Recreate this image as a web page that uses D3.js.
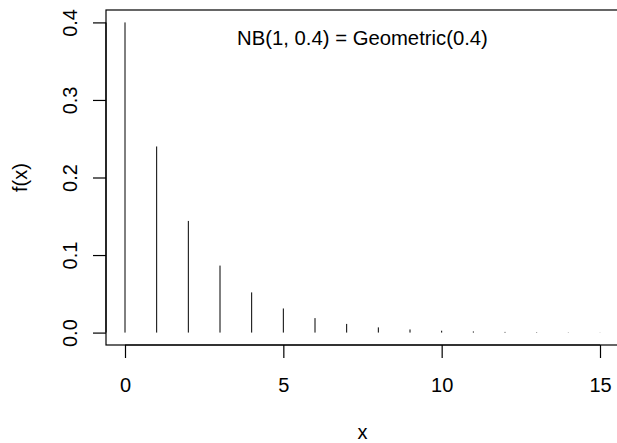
<!DOCTYPE html>
<html>
<head>
<meta charset="utf-8">
<script src="https://cdn.jsdelivr.net/npm/d3@7"></script>
<style>
  html, body { margin: 0; padding: 0; background: #fff; }
  svg { display: block; }
  text { font-family: "Liberation Sans", Arial, sans-serif; fill: #000; }
</style>
</head>
<body>
<svg id="chart" width="617" height="443"></svg>
<script>
// Geometric(0.4) probability mass, x = 0..15
const xs = [0, 1, 2, 3, 4, 5, 6, 7, 8, 9, 10, 11, 12, 13, 14, 15];
const probs = [0.4, 0.24, 0.144, 0.0864, 0.05184, 0.031104, 0.0186624, 0.01119744,
               0.006718464, 0.004031078, 0.002418647, 0.001451188, 0.000870713,
               0.000522428, 0.000313457, 0.000188074];
const xTicks = [0, 5, 10, 15];
const yTicks = [0.0, 0.1, 0.2, 0.3, 0.4];
const titleText = "NB(1, 0.4) = Geometric(0.4)";
const xLabel = "x";
const yLabel = "f(x)";

const svg = d3.select("#chart");
const plot = { left: 106, right: 619, top: 10, bottom: 345 };
const fontSize = 20;

// Axis limits padded by 4% of the data range on each side
const xPad = 0.04 * (d3.max(xs) - d3.min(xs));
const yPad = 0.04 * d3.max(probs);
const x = d3.scaleLinear().domain([d3.min(xs) - xPad, d3.max(xs) + xPad]).range([plot.left, plot.right]);
const y = d3.scaleLinear().domain([0 - yPad, d3.max(probs) + yPad]).range([plot.bottom, plot.top]);

// Vertical spikes from zero to each probability
svg.append("g")
  .selectAll("line")
  .data(xs.map((v, i) => ({ x: v, p: probs[i] })))
  .join("line")
  .attr("x1", d => x(d.x)).attr("x2", d => x(d.x))
  .attr("y1", y(0)).attr("y2", d => y(d.p))
  .attr("stroke", "#000").attr("stroke-width", 1);

// Frame around the plotting region
svg.append("rect")
  .attr("x", plot.left).attr("y", plot.top)
  .attr("width", plot.right - plot.left).attr("height", plot.bottom - plot.top)
  .attr("fill", "none").attr("stroke", "#000").attr("stroke-width", 1.2);

const tickLen = 13;

// Bottom axis
const xAxis = d3.axisBottom(x).tickValues(xTicks).tickFormat(d3.format("d"))
  .tickSize(tickLen).tickPadding(20).tickSizeOuter(0);
const gx = svg.append("g").attr("transform", `translate(0,${plot.bottom})`).call(xAxis);
gx.select(".domain").attr("d", `M${x(xTicks[0])},0H${x(xTicks[xTicks.length - 1])}`)
  .attr("stroke-width", 1.2);
gx.selectAll(".tick line").attr("stroke-width", 1.2);
gx.selectAll(".tick text").attr("font-size", fontSize)
  .attr("font-family", "Liberation Sans, Arial, sans-serif").attr("dy", "0.71em");

// Left axis with rotated labels
const yAxis = d3.axisLeft(y).tickValues(yTicks).tickFormat(d3.format(".1f"))
  .tickSize(tickLen).tickPadding(0).tickSizeOuter(0);
const gy = svg.append("g").attr("transform", `translate(${plot.left},0)`).call(yAxis);
gy.select(".domain").attr("d", `M0,${y(yTicks[0])}V${y(yTicks[yTicks.length - 1])}`)
  .attr("stroke-width", 1.2);
gy.selectAll(".tick line").attr("stroke-width", 1.2);
gy.selectAll(".tick text")
  .attr("font-size", fontSize)
  .attr("font-family", "Liberation Sans, Arial, sans-serif")
  .attr("x", null).attr("dy", null)
  .attr("text-anchor", "middle")
  .attr("transform", "translate(-29,0) rotate(-90)");

// Axis titles
svg.append("text")
  .attr("x", (plot.left + plot.right) / 2).attr("y", 439)
  .attr("text-anchor", "middle").attr("font-size", fontSize)
  .text(xLabel);
svg.append("text")
  .attr("transform", `translate(27,${(plot.top + plot.bottom) / 2}) rotate(-90)`)
  .attr("text-anchor", "middle").attr("font-size", fontSize)
  .text(yLabel);

// Annotation inside the plot
svg.append("text")
  .attr("x", x(7.5)).attr("y", y(0.38))
  .attr("dy", "0.35em")
  .attr("text-anchor", "middle").attr("font-size", 20.3)
  .text(titleText);
</script>
</body>
</html>
